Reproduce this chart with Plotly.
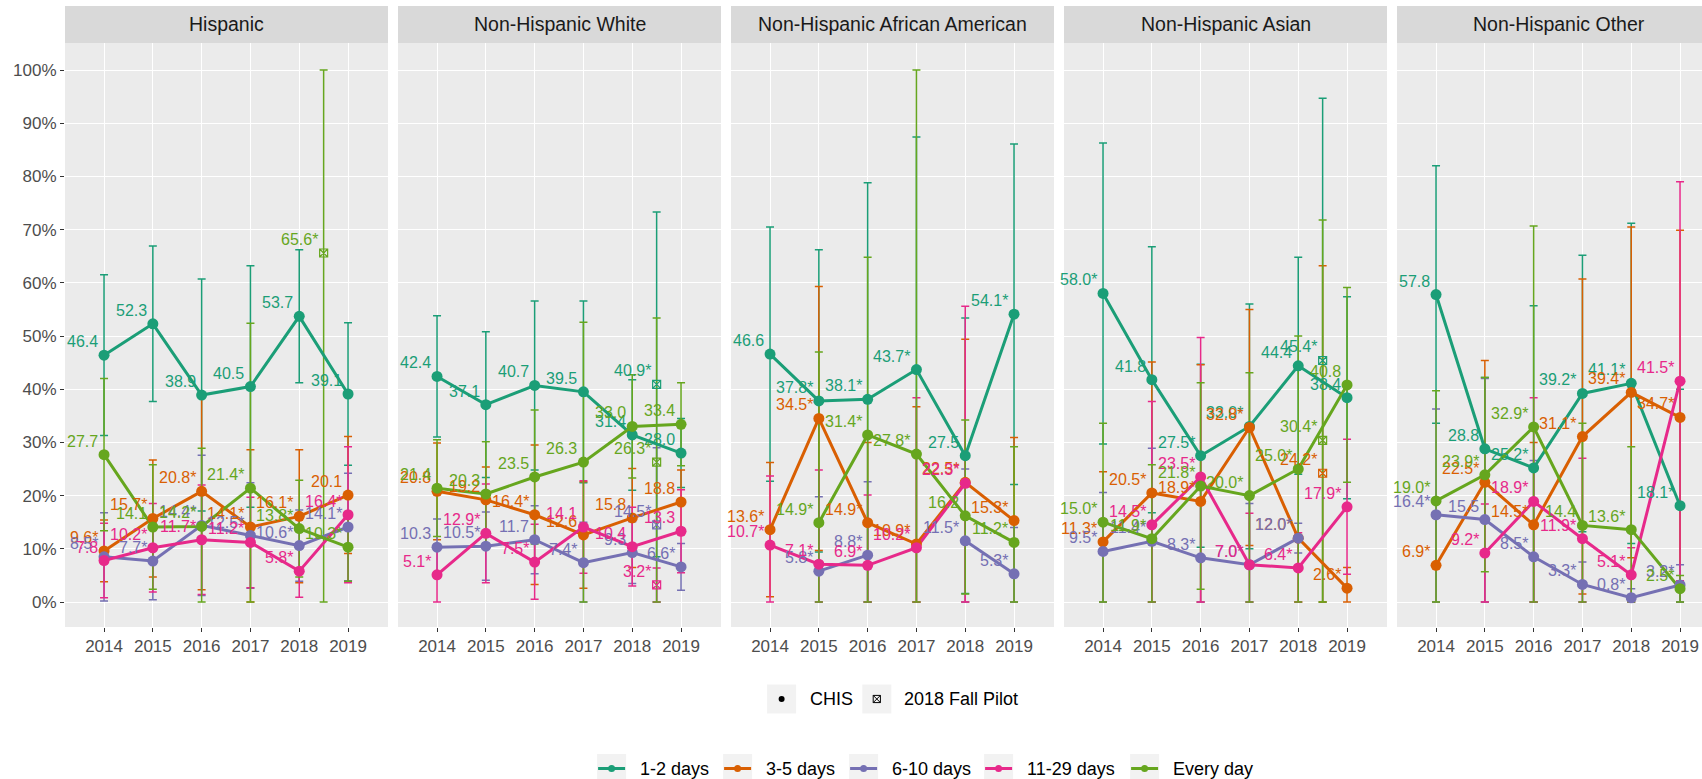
import plotly.graph_objects as go

W, H = 1702, 779
FONT = "Liberation Sans, Arial, sans-serif"

years = [2014, 2015, 2016, 2017, 2018, 2019]
pilot_year = 2018.5

groups = ["Hispanic", "Non-Hispanic White", "Non-Hispanic African American",
          "Non-Hispanic Asian", "Non-Hispanic Other"]
freq_names = ["1-2 days", "3-5 days", "6-10 days", "11-29 days", "Every day"]
freq_colors = ["#1B9E77", "#D95F02", "#7570B3", "#E7298A", "#66A61E"]

# ---- CHIS estimates (%), one row per frequency group, columns 2014..2019 ----
hisp_est = [[46.4, 52.3, 38.9, 40.5, 53.7, 39.1],
            [9.6, 15.7, 20.8, 14.1, 16.1, 20.1],
            [8.5, 7.7, 14.4, 12.5, 10.6, 14.1],
            [7.8, 10.2, 11.7, 11.2, 5.8, 16.4],
            [27.7, 14.1, 14.2, 21.4, 13.8, 10.3]]
hisp_lo = [[31.3, 37.7, 17.1, 17.8, 41.2, 25.7],
           [3.8, 4.7, 2.3, 0.0, 3.6, 9.1],
           [0.2, 0.4, 1.2, 2.6, 3.9, 4.0],
           [0.8, 1.9, 1.4, 2.7, 0.9, 3.6],
           [13.4, 2.4, 0.0, 0.0, 4.7, 3.9]]
hisp_hi = [[61.5, 66.9, 60.7, 63.2, 66.2, 52.5],
           [15.4, 26.7, 39.3, 28.6, 28.6, 31.1],
           [16.8, 15.0, 27.6, 22.4, 17.3, 24.2],
           [14.8, 18.5, 22.0, 19.7, 10.7, 29.2],
           [42.0, 25.8, 28.9, 52.4, 22.9, 16.7]]
hisp_star = [[0, 0, 0, 0, 0, 0],
             [1, 1, 1, 1, 1, 0],
             [1, 1, 1, 1, 1, 1],
             [0, 1, 1, 1, 1, 1],
             [0, 0, 1, 1, 1, 1]]

nhw_est = [[42.4, 37.1, 40.7, 39.5, 31.4, 28.0],
           [20.8, 19.2, 16.4, 12.6, 15.8, 18.8],
           [10.3, 10.5, 11.7, 7.4, 9.3, 6.6],
           [5.1, 12.9, 7.5, 14.1, 10.4, 13.3],
           [21.4, 20.3, 23.5, 26.3, 33.0, 33.4]]
nhw_lo = [[31.0, 23.4, 24.8, 22.4, 21.0, 21.5],
          [11.7, 13.0, 3.3, 2.6, 6.5, 12.8],
          [5.0, 4.1, 5.3, 0.0, 3.5, 2.2],
          [0.0, 3.6, 0.5, 5.4, 3.0, 5.5],
          [12.3, 10.5, 10.9, 0.0, 23.3, 25.6]]
nhw_hi = [[53.8, 50.8, 56.6, 56.6, 41.8, 34.5],
          [29.9, 25.4, 29.5, 22.6, 25.1, 24.8],
          [15.6, 16.9, 18.1, 15.0, 15.1, 11.0],
          [10.2, 22.2, 14.6, 22.8, 17.8, 21.1],
          [30.5, 30.1, 36.1, 52.6, 42.7, 41.2]]
nhw_star = [[0, 0, 0, 0, 0, 0],
            [0, 0, 1, 0, 0, 0],
            [0, 1, 0, 1, 0, 1],
            [1, 1, 1, 0, 0, 0],
            [0, 0, 0, 0, 0, 0]]

nhaa_est = [[46.6, 37.8, 38.1, 43.7, 27.5, 54.1],
            [13.6, 34.5, 14.9, 10.9, 22.5, 15.3],
            [None, 5.8, 8.8, None, 11.5, 5.3],
            [10.7, 7.1, 6.9, 10.2, 22.3, None],
            [None, 14.9, 31.4, 27.8, 16.2, 11.2]]
nhaa_lo = [[22.7, 9.4, 0.0, 0.0, 1.6, 22.1],
           [1.0, 9.7, 0.0, 0.0, 0.0, 0.0],
           [None, 0.0, 0.0, None, 0.0, 0.0],
           [0.0, 0.0, 0.0, 0.0, 0.0, None],
           [None, 0.0, 0.0, 0.0, 1.5, 0.0]]
nhaa_hi = [[70.5, 66.2, 78.8, 87.4, 53.4, 86.1],
           [26.2, 59.3, 30.0, 36.7, 49.4, 30.9],
           [None, 19.8, 22.6, None, 25.0, 14.0],
           [23.7, 24.8, 20.1, 38.4, 55.6, None],
           [None, 47.0, 64.8, 100.0, 34.2, 29.2]]
nhaa_star = [[0, 1, 1, 1, 0, 1],
             [1, 1, 1, 1, 1, 1],
             [1, 1, 1, 1, 1, 1],
             [1, 1, 1, 1, 1, 1],
             [1, 1, 1, 1, 0, 1]]

nha_est = [[58.0, 41.8, 27.5, 33.0, 44.4, 38.4],
           [11.3, 20.5, 18.9, 32.8, 12.0, 2.6],
           [9.5, 11.4, 8.3, 7.0, 12.0, None],
           [None, 14.5, 23.5, 7.0, 6.4, 17.9],
           [15.0, 11.9, 21.8, 20.0, 25.0, 40.8]]
nha_lo = [[29.7, 16.8, 10.3, 10.0, 24.0, 19.4],
          [0.0, 0.0, 0.0, 10.6, 0.0, 0.0],
          [0.0, 0.0, 0.0, 0.0, 9.2, None],
          [None, 0.0, 0.0, 0.0, 0.0, 5.2],
          [0.0, 0.0, 2.4, 0.0, 0.0, 22.5]]
nha_hi = [[86.3, 66.8, 44.7, 56.0, 64.8, 57.4],
          [24.5, 45.1, 44.6, 55.0, 25.0, 6.5],
          [20.6, 28.9, 19.0, 18.5, 14.8, None],
          [None, 37.7, 49.7, 16.7, 13.0, 30.6],
          [33.6, 25.8, 41.2, 43.1, 50.0, 59.1]]
nha_star = [[1, 0, 1, 1, 0, 0],
            [1, 1, 1, 1, 1, 1],
            [1, 1, 1, 1, 1, 1],
            [1, 1, 1, 1, 1, 1],
            [1, 1, 1, 1, 1, 0]]

nho_est = [[57.8, 28.8, 25.2, 39.2, 41.1, 18.1],
           [6.9, 22.5, 14.5, 31.1, 39.4, 34.7],
           [16.4, 15.5, 8.5, 3.3, 0.8, 3.2],
           [None, 9.2, 18.9, 11.9, 5.1, 41.5],
           [19.0, 23.9, 32.9, 14.4, 13.6, 2.5]]
nho_lo = [[33.6, 15.4, 0.0, 13.2, 11.0, 0.0],
          [0.0, 0.0, 0.0, 1.5, 8.3, 0.0],
          [0.0, 0.0, 0.0, 0.0, 0.0, 0.0],
          [None, 0.0, 0.0, 0.0, 0.0, 4.0],
          [0.0, 5.7, 0.0, 0.0, 0.0, 0.0]]
nho_hi = [[82.0, 42.2, 55.7, 65.2, 71.2, 40.0],
          [15.8, 45.4, 30.0, 60.7, 70.5, 69.9],
          [36.3, 42.0, 26.6, 7.5, 2.5, 7.0],
          [None, 18.4, 38.4, 27.0, 10.2, 79.0],
          [39.7, 42.2, 70.7, 33.6, 29.2, 5.0]]
nho_star = [[0, 0, 1, 1, 1, 1],
            [1, 1, 1, 1, 1, 1],
            [1, 0, 1, 1, 1, 1],
            [1, 1, 1, 1, 1, 1],
            [1, 1, 1, 0, 1, 1]]

# ---- 2018 Fall Pilot estimates, one value per frequency group ----
pilot_est = [[None, None, None, None, 65.6],
             [40.9, None, 14.5, 3.2, 26.3],
             [None, None, None, None, None],
             [45.4, 24.2, None, None, 30.4],
             [None, None, None, None, None]]
pilot_lo = [[None, None, None, None, 0.0],
            [8.5, None, 0.0, 0.0, 0.0],
            [None, None, None, None, None],
            [0.0, 0.0, None, None, 0.0],
            [None, None, None, None, None]]
pilot_hi = [[None, None, None, None, 100.0],
            [73.3, None, 29.0, 6.4, 53.4],
            [None, None, None, None, None],
            [94.7, 63.2, None, None, 71.8],
            [None, None, None, None, None]]

y_ticks = [0, 10, 20, 30, 40, 50, 60, 70, 80, 90, 100]
y_tick_text = [f"{t}%" for t in y_ticks]

panel_est = [hisp_est, nhw_est, nhaa_est, nha_est, nho_est]
panel_lo = [hisp_lo, nhw_lo, nhaa_lo, nha_lo, nho_lo]
panel_hi = [hisp_hi, nhw_hi, nhaa_hi, nha_hi, nho_hi]
panel_star = [hisp_star, nhw_star, nhaa_star, nha_star, nho_star]

# ---- layout geometry (pixels) ----
panel_left = [65, 398, 731, 1064, 1397]
panel_w = 323
px_per_year = 48.8
x_start = 2013.2
plot_top, plot_bottom = 43, 627
strip_top = 6
y_lo, y_hi = -4.70, 105.08
LABEL_SIZE = 16
TICK_SIZE = 17
STRIP_SIZE = 19.5
LEGEND_SIZE = 18


def px(x):
    return x / W


def py(y):
    return 1 - y / H


def err(vals, lo, hi):
    plus = [None if v is None else h - v for v, h in zip(vals, hi)]
    minus = [None if v is None else v - l for v, l in zip(vals, lo)]
    return plus, minus


def label(v, s):
    return f"{v:.1f}" + ("*" if s else "")


fig = go.Figure()
annotations = []
shapes = []

for p in range(5):
    ax = "" if p == 0 else str(p + 1)
    xref, yref = "x" + ax, "y" + ax
    est, lo, hi, star = panel_est[p], panel_lo[p], panel_hi[p], panel_star[p]

    # error bars first (beneath everything)
    for k in range(5):
        plus, minus = err(est[k], lo[k], hi[k])
        fig.add_trace(go.Scatter(
            x=years, y=est[k], mode="markers", xaxis=xref, yaxis=yref,
            marker=dict(size=1, opacity=0, color=freq_colors[k]),
            error_y=dict(type="data", symmetric=False, array=plus, arrayminus=minus,
                         color=freq_colors[k], thickness=1.5, width=4),
            showlegend=False, hoverinfo="skip"))
        if pilot_est[p][k] is not None:
            v = pilot_est[p][k]
            fig.add_trace(go.Scatter(
                x=[pilot_year], y=[v], mode="markers", xaxis=xref, yaxis=yref,
                marker=dict(size=1, opacity=0, color=freq_colors[k]),
                error_y=dict(type="data", symmetric=False,
                             array=[pilot_hi[p][k] - v], arrayminus=[v - pilot_lo[p][k]],
                             color=freq_colors[k], thickness=1.5, width=4),
                showlegend=False, hoverinfo="skip"))
    # lines
    for k in range(5):
        fig.add_trace(go.Scatter(
            x=years, y=est[k], mode="lines", xaxis=xref, yaxis=yref,
            line=dict(color=freq_colors[k], width=3), connectgaps=False,
            showlegend=False, name=freq_names[k]))
    # points
    for k in range(5):
        fig.add_trace(go.Scatter(
            x=years, y=est[k], mode="markers", xaxis=xref, yaxis=yref,
            marker=dict(color=freq_colors[k], size=11, line=dict(width=0)),
            showlegend=False, name=freq_names[k]))
        if pilot_est[p][k] is not None:
            fig.add_trace(go.Scatter(
                x=[pilot_year], y=[pilot_est[p][k]], mode="markers", xaxis=xref, yaxis=yref,
                marker=dict(color=freq_colors[k], size=8, symbol="square-x-open",
                            line=dict(width=1.2)),
                showlegend=False, name=freq_names[k] + " (2018 Fall Pilot)"))
    # value labels
    for k in range(5):
        for yr, v, s in zip(years, est[k], star[k]):
            if v is None:
                continue
            annotations.append(dict(
                x=yr, y=v, xref=xref, yref=yref, text=label(v, s), showarrow=False,
                xanchor="right", yanchor="bottom", xshift=-4, yshift=3,
                font=dict(family=FONT, size=LABEL_SIZE, color=freq_colors[k])))
        if pilot_est[p][k] is not None:
            annotations.append(dict(
                x=pilot_year, y=pilot_est[p][k], xref=xref, yref=yref,
                text=label(pilot_est[p][k], 1), showarrow=False,
                xanchor="right", yanchor="bottom", xshift=-4, yshift=3,
                font=dict(family=FONT, size=LABEL_SIZE, color=freq_colors[k])))

    # axes
    left = panel_left[p]
    right = min(left + panel_w, W)
    x_end = x_start + (right - left) / px_per_year
    fig.layout["xaxis" + ax] = dict(
        domain=[px(left), px(right)], range=[x_start, x_end], anchor=yref,
        tickvals=years, ticktext=[str(y) for y in years],
        showgrid=True, gridcolor="white", gridwidth=1.2, zeroline=False,
        ticks="outside", ticklen=4, tickcolor="#333333", tickwidth=1,
        tickfont=dict(family=FONT, size=TICK_SIZE, color="#4d4d4d"), showline=False,
        fixedrange=True)
    fig.layout["yaxis" + ax] = dict(
        domain=[py(plot_bottom), py(plot_top)], range=[y_lo, y_hi], anchor=xref,
        tickvals=y_ticks, ticktext=y_tick_text, showticklabels=(p == 0),
        ticks="outside" if p == 0 else "", ticklen=4, tickcolor="#333333",
        showgrid=True, gridcolor="white", gridwidth=1.2, zeroline=False,
        tickfont=dict(family=FONT, size=TICK_SIZE, color="#4d4d4d"), showline=False,
        fixedrange=True)

    # panel background and strip
    shapes.append(dict(type="rect", xref="paper", yref="paper", layer="below",
                       x0=px(left), x1=px(left + panel_w), y0=py(plot_bottom), y1=py(plot_top),
                       fillcolor="#ebebeb", line=dict(width=0)))
    shapes.append(dict(type="rect", xref="paper", yref="paper", layer="below",
                       x0=px(left), x1=px(left + panel_w), y0=py(plot_top), y1=py(strip_top),
                       fillcolor="#d9d9d9", line=dict(width=0)))
    annotations.append(dict(
        x=px(left + panel_w / 2), y=py((plot_top + strip_top) / 2), xref="paper", yref="paper",
        text=groups[p], showarrow=False, xanchor="center", yanchor="middle",
        font=dict(family=FONT, size=STRIP_SIZE, color="#1a1a1a")))

# ---- legends (drawn as layout decoration) ----
KEY = 29
# survey legend
leg1_y = 699
survey_items = [("CHIS", 781.6, 808), ("2018 Fall Pilot", 876.8, 902)]
for name, cx, tx in survey_items:
    shapes.append(dict(type="rect", xref="paper", yref="paper",
                       x0=px(cx - KEY / 2), x1=px(cx + KEY / 2),
                       y0=py(leg1_y + KEY / 2), y1=py(leg1_y - KEY / 2),
                       fillcolor="#f2f2f2", line=dict(width=0)))
    annotations.append(dict(x=px(tx), y=py(leg1_y), xref="paper", yref="paper", text=name,
                            showarrow=False, xanchor="left", yanchor="middle",
                            font=dict(family=FONT, size=LEGEND_SIZE, color="black")))
dot_x = survey_items[0][1]
shapes.append(dict(type="circle", xref="paper", yref="paper",
                   x0=px(dot_x - 3), x1=px(dot_x + 3), y0=py(leg1_y + 3), y1=py(leg1_y - 3),
                   fillcolor="black", line=dict(width=0)))
sq_x = survey_items[1][1]
s = 3.6
shapes.append(dict(type="rect", xref="paper", yref="paper",
                   x0=px(sq_x - s), x1=px(sq_x + s), y0=py(leg1_y + s), y1=py(leg1_y - s),
                   line=dict(color="black", width=1)))
shapes.append(dict(type="line", xref="paper", yref="paper",
                   x0=px(sq_x - s), x1=px(sq_x + s), y0=py(leg1_y + s), y1=py(leg1_y - s),
                   line=dict(color="black", width=1)))
shapes.append(dict(type="line", xref="paper", yref="paper",
                   x0=px(sq_x - s), x1=px(sq_x + s), y0=py(leg1_y - s), y1=py(leg1_y + s),
                   line=dict(color="black", width=1)))

# frequency legend
leg2_y = 768.5
text_starts = [638, 764, 890, 1025, 1171]
for name, col, tx in zip(freq_names, freq_colors, text_starts):
    cx = tx - 26.4
    shapes.append(dict(type="rect", xref="paper", yref="paper",
                       x0=px(cx - KEY / 2), x1=px(cx + KEY / 2),
                       y0=py(leg2_y + KEY / 2), y1=py(leg2_y - KEY / 2),
                       fillcolor="#f2f2f2", line=dict(width=0)))
    shapes.append(dict(type="line", xref="paper", yref="paper",
                       x0=px(cx - KEY / 2 + 1), x1=px(cx + KEY / 2 - 1), y0=py(leg2_y), y1=py(leg2_y),
                       line=dict(color=col, width=3)))
    shapes.append(dict(type="circle", xref="paper", yref="paper",
                       x0=px(cx - 3.5), x1=px(cx + 3.5), y0=py(leg2_y + 3.5), y1=py(leg2_y - 3.5),
                       fillcolor=col, line=dict(width=0)))
    annotations.append(dict(x=px(tx), y=py(leg2_y), xref="paper", yref="paper", text=name,
                            showarrow=False, xanchor="left", yanchor="middle",
                            font=dict(family=FONT, size=LEGEND_SIZE, color="black")))

fig.update_layout(
    width=W, height=H, margin=dict(l=0, r=0, t=0, b=0),
    paper_bgcolor="white", plot_bgcolor="rgba(0,0,0,0)",
    showlegend=False, annotations=annotations, shapes=shapes,
    font=dict(family=FONT),
)

fig.write_html("out.html", config={"displayModeBar": False})
